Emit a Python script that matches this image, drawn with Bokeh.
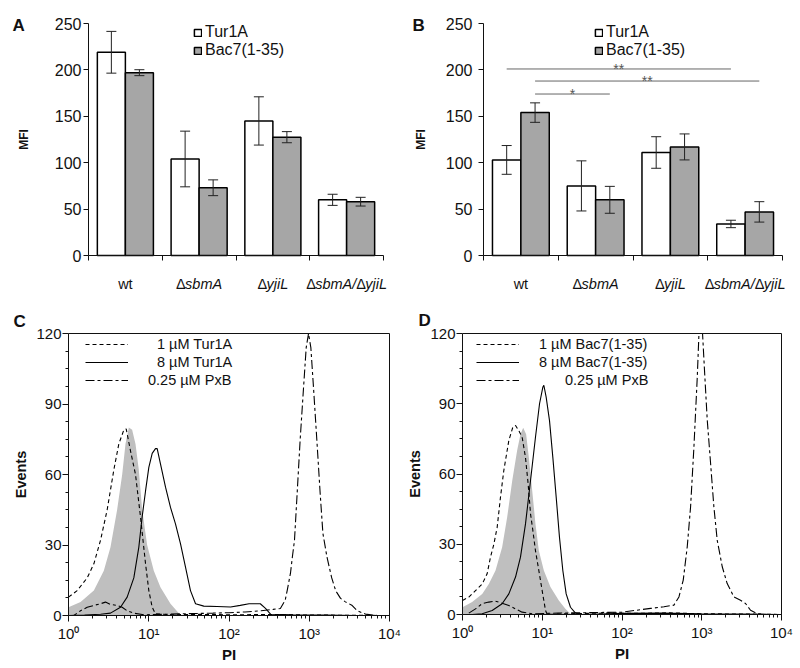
import numpy as np
from bokeh.plotting import figure
from bokeh.models import (Range1d, FixedTicker, ColumnDataSource, Whisker, TeeHead,
                          Legend, LegendItem, LinearAxis, LogAxis)
from bokeh.layouts import column, row
from bokeh.core.properties import value
from bokeh.embed import file_html
from bokeh.resources import INLINE

FONT = "Liberation Sans"
INK = "#111111"

# ---------------- data: panels A and B (bar charts) ----------------
categories = ["wt", "ΔsbmA", "ΔyjiL", "ΔsbmA/ΔyjiL"]
series = ["Tur1A", "Bac7(1-35)"]
a_tur1a = [219, 104, 145, 60]
a_tur1a_err = [22.5, 30, 26, 6]
a_bac7 = [197, 73, 127.5, 58]
a_bac7_err = [3.2, 8.5, 6, 4.7]
b_tur1a = [103, 75, 111, 34]
b_tur1a_err = [15.5, 27, 17, 4]
b_bac7 = [154, 60, 117, 47]
b_bac7_err = [10.5, 14.5, 14, 11]
mfi_ticks = [0, 50, 100, 150, 200, 250]
# significance brackets in B: (from category, from series, to category, to series, height, mark)
b_sig = [
    ("wt", 0, "ΔsbmA/ΔyjiL", 0, 201, "**"),
    ("wt", 1, "ΔsbmA/ΔyjiL", 1, 188, "**"),
    ("wt", 1, "ΔsbmA", 1, 174, "*"),
]

# ---------------- data: panels C and D (histograms, x as log10(PI)) ----------------
pi_ticks = [1, 10, 100, 1000, 10000]
pi_tick_labels = ["10⁰", "10¹", "10²", "10³", "10⁴"]
events_ticks = [0, 30, 60, 90, 120]

c_ctrl_lx = [0, 0.15, 0.316, 0.44, 0.523, 0.606, 0.669, 0.71, 0.752, 0.793, 0.835, 0.876,
             0.918, 0.98, 1.063, 1.146, 1.271, 1.375, 1.416]
c_ctrl_y = [3.5, 5.7, 10.6, 19, 29, 45, 60, 73, 80, 79, 73, 62, 45, 30, 19, 12, 5, 1, 0]

c_low_lx = [0, 0.108, 0.233, 0.316, 0.399, 0.482, 0.565, 0.627, 0.69, 0.719, 0.773, 0.835,
            0.897, 0.96, 1.001, 1.043, 1.084, 1.3, 1.6, 2.0, 2.5, 3.0, 3.5, 4.0]
c_low_y = [7.8, 10.6, 16, 22, 32, 45, 62, 73, 79, 79.4, 70, 60, 42, 22, 10.6, 3.5, 0.7, 0.3,
           0.5, 0.3, 0.4, 0.2, 0.1, 0]

c_high_lx = [0, 0.2, 0.4, 0.523, 0.648, 0.731, 0.814, 0.876, 0.918, 0.96, 1.001, 1.043, 1.084,
             1.105, 1.146, 1.209, 1.271, 1.333, 1.396, 1.458, 1.52, 1.583, 1.686, 1.85, 2.02,
             2.14, 2.25, 2.39, 2.455, 2.52, 2.8, 3.2, 3.6, 4.0]
c_high_y = [0, 0.2, 0.5, 1, 3.5, 7.8, 16, 29, 42, 53, 63, 69, 71, 71, 64.5, 54.6, 46, 39, 30.5,
            20.6, 10.6, 5, 4, 3.8, 3.6, 4.3, 5, 5, 3, 0.5, 0.3, 0.2, 0, 0]

c_pxb_lx = [0, 0.066, 0.15, 0.233, 0.316, 0.399, 0.461, 0.523, 0.606, 0.669, 0.731, 0.814,
            0.939, 1.2, 1.5, 1.8, 2.0, 2.2, 2.4, 2.55, 2.64, 2.7, 2.725, 2.766, 2.79, 2.816,
            2.846, 2.887, 2.929, 2.962, 2.991, 3.02, 3.053, 3.094, 3.136, 3.17, 3.22, 3.28,
            3.33, 3.39, 3.45, 3.53, 3.6, 3.7, 3.85, 4.0]
c_pxb_y = [0, 0, 2, 3.5, 4.3, 5, 5.7, 4.7, 4.3, 3.5, 2, 1, 0.3, 0.5, 0.8, 1, 1.2, 1.5, 2, 2.6,
           3, 6.5, 10.6, 18, 25, 32, 50, 75, 97, 114, 120, 114, 97, 75, 52, 35, 25, 16, 10.5,
           7.3, 5.8, 4.4, 2, 0.6, 0, 0]

d_ctrl_lx = [0, 0.121, 0.247, 0.33, 0.414, 0.497, 0.56, 0.623, 0.685, 0.727, 0.761, 0.798,
             0.832, 0.874, 0.915, 0.957, 1.02, 1.103, 1.208, 1.292, 1.354]
d_ctrl_y = [3.1, 5.3, 8.8, 13, 18.8, 28.7, 41.5, 57, 70, 77, 79.7, 77, 67, 53, 38.7, 27.3,
            18.8, 11.7, 6, 2.4, 0.3]

d_low_lx = [0, 0.079, 0.163, 0.247, 0.309, 0.351, 0.393, 0.435, 0.476, 0.518, 0.581, 0.631,
            0.665, 0.706, 0.748, 0.79, 0.823, 0.853, 0.882, 0.915, 0.957, 0.999, 1.041, 1.062,
            1.4, 1.8, 2.2, 2.6, 3.0, 3.5, 4.0]
d_low_y = [6, 7.4, 10.2, 13, 17.4, 24.5, 30, 37.3, 50, 61.5, 74.3, 80, 80.7, 78.5, 75.7, 67,
           55.8, 43, 35.9, 27.3, 18.8, 10.2, 1.7, 0, 0.4, 0.6, 0.5, 0.7, 0.3, 0.2, 0]

d_high_lx = [0.121, 0.247, 0.372, 0.497, 0.581, 0.665, 0.727, 0.79, 0.853, 0.915, 0.966, 1.007,
             1.02, 1.049, 1.091, 1.133, 1.175, 1.216, 1.258, 1.3, 1.354, 1.417, 1.5, 2.0, 2.5,
             3.0, 3.5, 4.0]
d_high_y = [0, 0.3, 1.7, 4.6, 8.8, 16, 24.5, 38.7, 57.2, 75.7, 90, 97, 97.9, 92.8, 82.8, 67,
            50, 33, 18.8, 8.8, 3.1, 0.6, 0, 0.5, 0.6, 0.3, 0.2, 0]

d_pxb_lx = [0.079, 0.163, 0.247, 0.33, 0.414, 0.497, 0.581, 0.665, 0.748, 0.874, 1.2, 1.6, 2.0,
            2.359, 2.526, 2.651, 2.714, 2.768, 2.818, 2.86, 2.902, 2.944, 2.965, 2.98, 2.995,
            3.01, 3.035, 3.069, 3.111, 3.152, 3.194, 3.257, 3.319, 3.403, 3.486, 3.549, 3.612,
            3.695, 3.82, 4.0]
d_pxb_y = [0.6, 2.4, 4.6, 5.3, 5.7, 4.8, 3.8, 2.4, 1, 0.3, 0.6, 0.8, 1, 2.6, 3.3, 4, 7.5, 14.7,
           28.9, 46, 71.6, 101.5, 120, 120, 120, 120, 104, 83, 64.5, 46, 31.7, 20.4, 13.2, 7.5,
           6.1, 4.7, 1.8, 0.4, 0, 0]

c_labels = ["1 µM Tur1A", "8 µM Tur1A", "0.25 µM PxB"]
d_labels = ["1 µM Bac7(1-35)", "8 µM Bac7(1-35)", "0.25 µM PxB"]

# ---------------- helpers ----------------
BAR_OFFSETS = [-0.19, 0.19]
BAR_WIDTH = 0.38
CHAR_W = {"Δ": 0.62, "s": 0.5, "b": 0.556, "m": 0.833, "A": 0.667, "/": 0.278, "y": 0.5,
          "j": 0.222, "i": 0.222, "L": 0.556, "w": 0.722, "t": 0.278}
CAT_FS = 14.5


def label_pieces(name):
    if "Δ" not in name:
        return [(name, "normal")]
    pieces = []
    parts = name.split("Δ")
    if parts[0]:
        pieces.append((parts[0], "italic"))
    for part in parts[1:]:
        pieces.append(("Δ", "normal"))
        if part:
            pieces.append((part, "italic"))
    return pieces


def text_width(s, fs):
    return sum(CHAR_W.get(c, 0.55) for c in s) * fs


class Mapper:
    """Maps pixel positions within a figure to data coordinates, given where the
    axis box (data limits) sits inside the figure."""

    def __init__(self, fig_w, fig_h, box, xlim, ylim, logx=False):
        left, right, top, bottom = box
        self.logx = logx
        xl, xh = (np.log10(xlim[0]), np.log10(xlim[1])) if logx else xlim
        self.ux = (xh - xl) / (right - left)
        self.uy = (ylim[1] - ylim[0]) / (bottom - top)
        self.x0 = xl - left * self.ux
        self.x1 = xh + (fig_w - right) * self.ux
        self.y0 = ylim[0] - (fig_h - bottom) * self.uy
        self.y1 = ylim[1] + top * self.uy

    def x_range(self):
        if self.logx:
            return Range1d(10 ** self.x0, 10 ** self.x1)
        return Range1d(self.x0, self.x1)

    def y_range(self):
        return Range1d(self.y0, self.y1)

    def px(self, x):
        v = self.x0 + x * self.ux
        return 10 ** v if self.logx else v

    def py(self, y):
        return self.y1 - y * self.uy


def style_axis(ax, fs="16px"):
    ax.axis_line_color = INK
    ax.major_tick_line_color = INK
    ax.minor_tick_line_color = INK
    ax.major_label_text_font = FONT
    ax.major_label_text_font_size = fs
    ax.major_label_text_color = INK
    ax.axis_label_text_font = FONT
    ax.axis_label_text_font_style = "bold"
    ax.axis_label_text_color = INK


def new_fig(w, h, m, logx=False):
    p = figure(width=w, height=h, x_range=m.x_range(), y_range=m.y_range(),
               x_axis_type="log" if logx else "linear", title=None,
               output_backend="svg", toolbar_location=None)
    p.min_border = 0
    p.min_border_left = p.min_border_right = p.min_border_top = p.min_border_bottom = 0
    p.outline_line_color = None
    p.xgrid.visible = False
    p.ygrid.visible = False
    p.background_fill_color = "white"
    p.border_fill_color = "white"
    return p


def bar_panel(tur, tur_err, bac, bac_err, width, box, letter, letter_x, legend_x,
              tick_standoff, label_standoff, sig=None):
    height = 308
    m = Mapper(width, height, box, (0, len(categories)), (0, 250))
    p = new_fig(width, height, m)

    yax = p.yaxis[0]
    style_axis(yax)
    yax.fixed_location = 0
    yax.bounds = (0, 250)
    yax.ticker = FixedTicker(ticks=mfi_ticks)
    yax.major_tick_out = 5
    yax.major_tick_in = 0
    yax.minor_tick_out = 0
    yax.minor_tick_in = 0
    yax.major_label_standoff = tick_standoff
    yax.axis_label = "MFI"
    yax.axis_label_text_font_size = "12px"
    yax.axis_label_standoff = label_standoff

    xax = p.xaxis[0]
    style_axis(xax)
    xax.fixed_location = 0
    xax.bounds = (0, len(categories))
    xax.ticker = FixedTicker(ticks=[], minor_ticks=list(range(len(categories) + 1)))
    xax.major_tick_out = 0
    xax.major_tick_in = 0
    xax.minor_tick_out = 5
    xax.minor_tick_in = 0

    renderers = []
    for s, (vals, errs, color) in enumerate([(tur, tur_err, "white"), (bac, bac_err, "#a6a6a6")]):
        xs = [i + 0.5 + BAR_OFFSETS[s] for i in range(len(categories))]
        src = ColumnDataSource(dict(x=xs, top=vals,
                                    upper=[v + e for v, e in zip(vals, errs)],
                                    lower=[v - e for v, e in zip(vals, errs)]))
        r = p.vbar(x="x", top="top", width=BAR_WIDTH, source=src, fill_color=color,
                   line_color="black", line_width=1.5)
        renderers.append(r)
        w = Whisker(source=src, base="x", upper="upper", lower="lower", line_color="#222222",
                    line_width=1, level="annotation",
                    upper_head=TeeHead(size=10, line_color="#222222", line_width=1),
                    lower_head=TeeHead(size=10, line_color="#222222", line_width=1))
        p.add_layout(w)

    if sig:
        x0s, x1s, ys, marks, mids = [], [], [], [], []
        for c0, s0, c1, s1, h, mark in sig:
            a = categories.index(c0) + 0.5 + BAR_OFFSETS[s0]
            b = categories.index(c1) + 0.5 + BAR_OFFSETS[s1]
            x0s.append(a)
            x1s.append(b)
            ys.append(h)
            marks.append(mark)
            mids.append((a + b) / 2)
        p.segment(x0=x0s, y0=ys, x1=x1s, y1=ys, line_color="#666666", line_width=1)
        p.text(x=mids, y=ys, text=marks, text_font=value(FONT), text_font_size="14px",
               text_align="center", text_baseline="middle", text_color="#555555")

    legend = Legend(items=[LegendItem(label=series[0], renderers=[renderers[0]]),
                           LegendItem(label=series[1], renderers=[renderers[1]])],
                    location=(legend_x, height - 24 - 35), glyph_width=9, glyph_height=9,
                    label_standoff=3, spacing=0, padding=0, margin=0, label_height=17,
                    border_line_alpha=0, background_fill_alpha=0,
                    label_text_font=FONT, label_text_font_size="16px",
                    label_text_color=INK)
    p.add_layout(legend)

    # category labels below the axis (upright Δ, italic gene names)
    label_y = m.py(283)
    groups = {"normal": dict(x=[], y=[], off=[], text=[]),
              "italic": dict(x=[], y=[], off=[], text=[])}
    for i, name in enumerate(categories):
        pieces = label_pieces(name)
        total = sum(text_width(t, CAT_FS) for t, _ in pieces)
        off = -total / 2
        for t, style in pieces:
            g = groups[style]
            g["x"].append(i + 0.5)
            g["y"].append(label_y)
            g["off"].append(off)
            g["text"].append(t)
            off += text_width(t, CAT_FS)
    for style, g in groups.items():
        if g["text"]:
            p.text(x=g["x"], y=g["y"], x_offset=g["off"], text=g["text"],
                   text_font=value(FONT), text_font_style=style,
                   text_font_size=f"{CAT_FS}px", text_align="left",
                   text_baseline="alphabetic", text_color=INK)

    p.text(x=[m.px(letter_x)], y=[m.py(25)], text=[letter], text_font=value(FONT),
           text_font_style="bold", text_font_size="17px", text_align="left",
           text_baseline="alphabetic", text_color=INK)
    return p


def flow_panel(width, box, ctrl, low, high, pxb, labels, letter, letter_xy,
               legend_x, standoffs, label_standoff):
    height = 359
    m = Mapper(width, height, box, (1, 10000), (0, 120), logx=True)
    p = new_fig(width, height, m, logx=True)

    xax = p.xaxis[0]
    style_axis(xax, "15px")
    xax.fixed_location = 0
    xax.bounds = (1, 10000)
    minor = [mm * 10 ** k for k in range(4) for mm in range(2, 10)]
    xax.ticker = FixedTicker(ticks=pi_ticks, minor_ticks=minor)
    xax.major_label_overrides = dict(zip(pi_ticks, pi_tick_labels))
    xax.major_tick_out = 6
    xax.major_tick_in = 0
    xax.minor_tick_out = 3
    xax.minor_tick_in = 0
    xax.major_label_standoff = 3
    xax.axis_label = "PI"
    xax.axis_label_text_font_size = "15px"
    xax.axis_label_standoff = 1

    yax = p.yaxis[0]
    style_axis(yax, "15px")
    yax.fixed_location = 1
    yax.bounds = (0, 120)
    yax.ticker = FixedTicker(ticks=events_ticks,
                             minor_ticks=[7.5, 15, 22.5, 37.5, 45, 52.5, 67.5, 75, 82.5,
                                          97.5, 105, 112.5])
    yax.major_tick_out = 6
    yax.major_tick_in = 0
    yax.minor_tick_out = 3
    yax.minor_tick_in = 0
    yax.major_label_standoff = 1
    yax.axis_label = "Events"
    yax.axis_label_text_font_size = "14.5px"
    yax.axis_label_standoff = label_standoff

    # closing lines of the box (top and right), as tickless axes
    top_ax = LogAxis(fixed_location=120, bounds=(1, 10000), ticker=FixedTicker(ticks=[]),
                     major_tick_out=0, minor_tick_out=0, axis_line_color=INK)
    right_ax = LinearAxis(fixed_location=10000, bounds=(0, 120), ticker=FixedTicker(ticks=[]),
                          major_tick_out=0, minor_tick_out=0, axis_line_color=INK)
    p.add_layout(top_ax, "above")
    p.add_layout(right_ax, "right")

    cx = 10 ** np.array(ctrl[0])
    p.varea(x=cx, y1=0, y2=ctrl[1], fill_color="#bfbfbf", fill_alpha=1)
    r1 = p.line(10 ** np.array(low[0]), low[1], line_color="black", line_width=1.1,
                line_dash="4 3")
    r2 = p.line(10 ** np.array(high[0]), high[1], line_color="black", line_width=1.1)
    r3 = p.line(10 ** np.array(pxb[0]), pxb[1], line_color="black", line_width=1.1,
                line_dash="9 3 3 3")

    common = dict(glyph_width=43, glyph_height=18, spacing=0, padding=0, margin=0,
                  label_height=18, border_line_alpha=0, background_fill_alpha=0,
                  label_text_font=FONT, label_text_font_size="14.5px", label_text_color=INK)
    # labels in the reference are right-aligned: peptide rows and PxB row get own standoffs
    leg1 = Legend(items=[LegendItem(label=labels[0], renderers=[r1]),
                         LegendItem(label=labels[1], renderers=[r2])],
                  location=(legend_x, height - 27 - 36), label_standoff=standoffs[0], **common)
    leg2 = Legend(items=[LegendItem(label=labels[2], renderers=[r3])],
                  location=(legend_x, height - 63 - 18), label_standoff=standoffs[1], **common)
    p.add_layout(leg1)
    p.add_layout(leg2)

    p.text(x=[m.px(letter_xy[0])], y=[m.py(letter_xy[1])], text=[letter],
           text_font=value(FONT), text_font_style="bold", text_font_size="17px",
           text_align="left", text_baseline="alphabetic", text_color=INK)
    return p


# axis boxes as (left, right, top, bottom) pixel positions within each figure
pA = bar_panel(a_tur1a, a_tur1a_err, a_bac7, a_bac7_err, 408, (88, 383, 23, 255),
               "A", 12, 193, 2, 21)
pB = bar_panel(b_tur1a, b_tur1a_err, b_bac7, b_bac7_err, 390, (75, 374, 23, 255),
               "B", 4, 186, 6, 15, sig=b_sig)
pC = flow_panel(408, (68, 389, 25, 307), (c_ctrl_lx, c_ctrl_y), (c_low_lx, c_low_y),
                (c_high_lx, c_high_y), (c_pxb_lx, c_pxb_y), c_labels, "C", (13, 13),
                85, (29, 20), 4)
pD = flow_panel(390, (54, 373, 25, 306), (d_ctrl_lx, d_ctrl_y), (d_low_lx, d_low_y),
                (d_high_lx, d_high_y), (d_pxb_lx, d_pxb_y), d_labels, "D", (10, 12),
                68, (20, 46), 4)

layout = column(row(pA, pB), row(pC, pD))
open("out.html", "w").write(file_html(layout, INLINE))
